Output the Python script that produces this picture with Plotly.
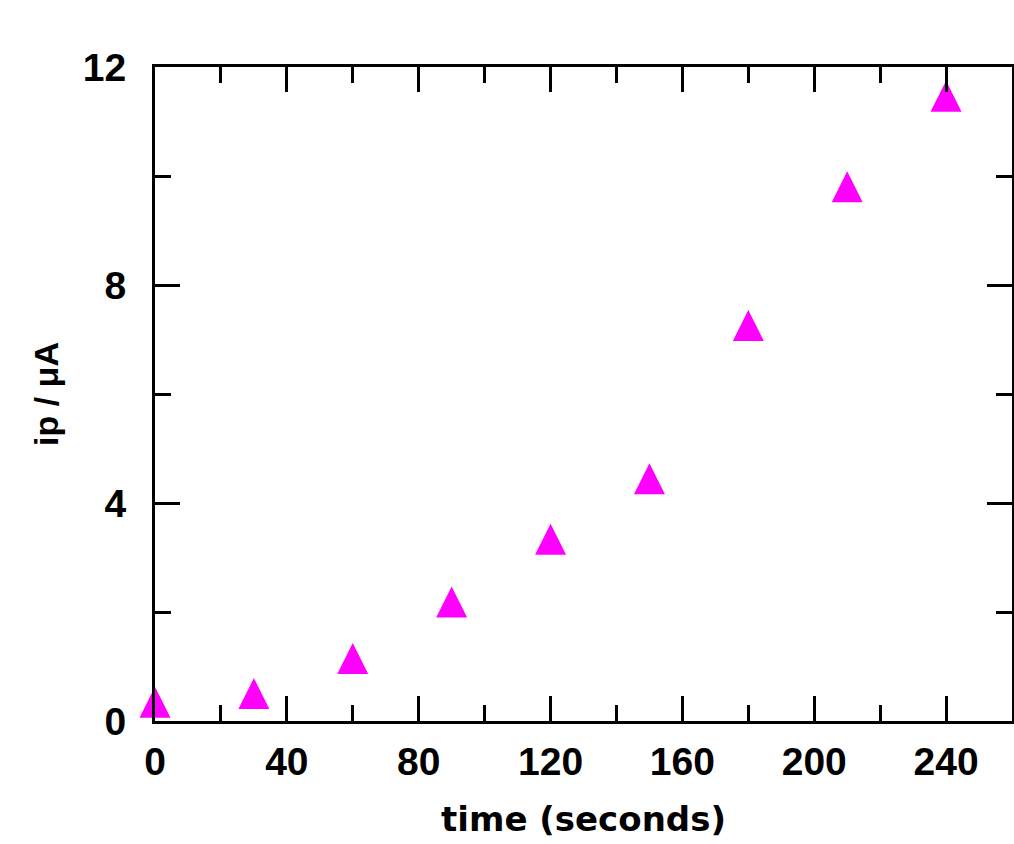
import plotly.graph_objects as go

time_s = [0, 30, 60, 90, 120, 150, 180, 210, 240]
ip_uA = [0.25, 0.41, 1.05, 2.09, 3.24, 4.35, 7.16, 9.71, 11.37]

x_ticks = [0, 40, 80, 120, 160, 200, 240]
y_ticks = [0, 4, 8, 12]

MARK = 31  # marker size in px

fig = go.Figure()
fig.add_trace(go.Scatter(
    x=time_s, y=ip_uA, mode="markers",
    marker=dict(symbol="arrow-down", angle=180, standoff=MARK * 2 / 3,
                size=MARK, color="#FF00FF", line=dict(width=0)),
    showlegend=False, cliponaxis=False,
))

axis_common = dict(
    showline=True, linecolor="black", linewidth=3, mirror="ticks",
    ticks="inside", tickcolor="black", tickwidth=2.5, ticklen=25,
    showgrid=False, zeroline=False,
    tickfont=dict(family="Liberation Sans", size=39, color="black", weight="bold"),
)

fig.update_xaxes(
    range=[0, 260], tickvals=x_ticks, ticktext=[str(v) for v in x_ticks],
    minor=dict(dtick=20, tick0=0, ticks="inside", ticklen=16, tickwidth=2.5,
               tickcolor="black", showgrid=False),
    ticklabelstandoff=4,
    title=dict(text="time (seconds)", standoff=26,
               font=dict(family="DejaVu Sans", size=34, color="black", weight="bold")),
    **axis_common,
)
fig.update_yaxes(
    range=[0, 12], tickvals=y_ticks, ticktext=[str(v) for v in y_ticks],
    minor=dict(dtick=2, tick0=0, ticks="inside", ticklen=16, tickwidth=2.5,
               tickcolor="black", showgrid=False),
    ticklabelstandoff=18,
    title=dict(text="ip / μA", standoff=14,
               font=dict(family="Liberation Sans", size=34, color="black", weight="bold")),
    **axis_common,
)

fig.update_layout(
    width=1014, height=844,
    margin=dict(l=155, r=2, t=67, b=123, autoexpand=False),
    paper_bgcolor="white", plot_bgcolor="white",
)

fig.write_html("out.html")
